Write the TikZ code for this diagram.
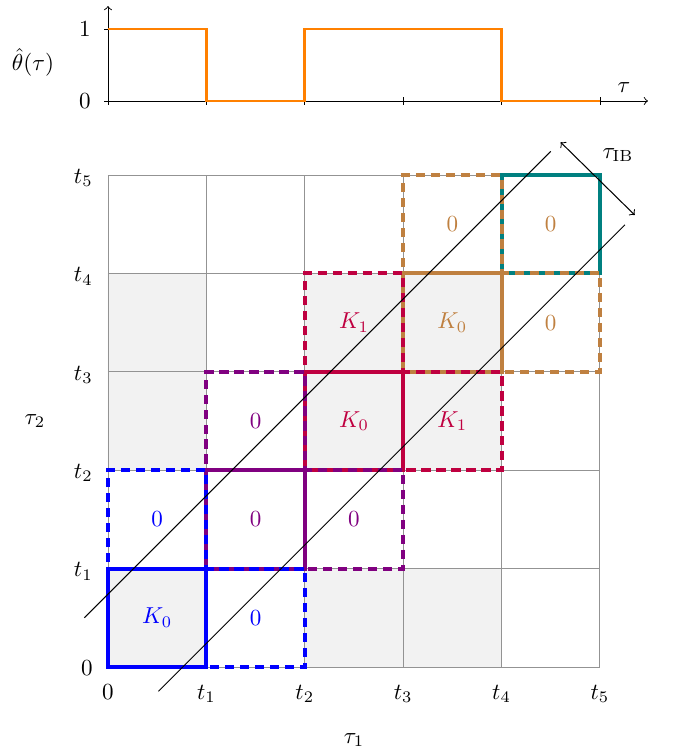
\documentclass[tikz,border=0pt]{standalone}
\begin{document}
\begin{tikzpicture}[
  cellgrid/.style={gray!85, line width=0.4pt},
  sq/.style={line width=1.7pt},
  dsq/.style={line width=1.7pt, dash pattern=on 4pt off 2.5pt},
  axisline/.style={line width=0.4pt},
  tickmark/.style={line width=0.4pt},
  diag/.style={line width=0.45pt},
  theta/.style={orange, line width=1.25pt},
]
\useasboundingbox (-1.646,-1.311) rectangle (8.765,10.168);

% ---------- top plot ----------
\coordinate (ax0) at (0,8.628);
\coordinate (axx) at (8.232,8.628);
\coordinate (axy) at (0,10.076);
\draw[axisline,->] (ax0) -- (axx);
\draw[axisline,->] (ax0) -- (axy);
\foreach \i in {0,...,5} {
  \draw[tickmark] (1.5*\i,8.568) -- (1.5*\i,8.688);
}
\draw[tickmark] (-0.06,8.628) -- (0.06,8.628);
\draw[tickmark] (-0.06,9.726) -- (0.06,9.726);
\draw[theta] (0,9.726) -- (1.5,9.726) -- (1.5,8.628) -- (3,8.628) -- (3,9.726)
  -- (6,9.726) -- (6,8.628) -- (7.5,8.628);
\node (yone) at (-0.351,9.726) {$1$};
\node (yzero) at (-0.351,8.628) {$0$};
\node[inner sep=1pt] (thlab) at (-1.143,9.223) {$\hat{\theta}(\tau)$};
\node (taulab) at (7.866,8.826) {$\tau$};

% ---------- grid ----------
\begin{scope}[scale=1.5]
\fill[gray!10] (0,0) rectangle (1,1) (2,0) rectangle (4,1)
  (0,2) rectangle (1,4) (2,2) rectangle (4,4);
\draw[cellgrid] (0,0) grid (5,5);

% teal
\draw[sq,teal] (4,4) rectangle (5,5);
% brown
\draw[dsq,brown] (3,3) rectangle (4,5);
\draw[dsq,brown] (3,3) rectangle (5,4);
\draw[sq,brown] (3,3) rectangle (4,4);
% purple
\draw[dsq,purple] (2,2) rectangle (3,4);
\draw[dsq,purple] (2,2) rectangle (4,3);
\draw[sq,purple] (2,2) rectangle (3,3);
% violet
\draw[dsq,violet] (1,1) rectangle (2,3);
\draw[dsq,violet] (1,1) rectangle (3,2);
\draw[sq,violet] (1,1) rectangle (2,2);
% blue
\draw[dsq,blue] (0,0) rectangle (1,2);
\draw[dsq,blue] (0,0) rectangle (2,1);
\draw[sq,blue] (0,0) rectangle (1,1);

% cell labels
\node[text=blue] (b00) at (0.5,0.5) {$K_0$};
\node[text=blue] (b01) at (0.5,1.5) {$0$};
\node[text=blue] (b10) at (1.5,0.5) {$0$};
\node[text=violet] (v11) at (1.5,1.5) {$0$};
\node[text=violet] (v12) at (1.5,2.5) {$0$};
\node[text=violet] (v21) at (2.5,1.5) {$0$};
\node[text=purple] (p22) at (2.5,2.5) {$K_0$};
\node[text=purple] (p23) at (2.5,3.5) {$K_1$};
\node[text=purple] (p32) at (3.5,2.5) {$K_1$};
\node[text=brown] (r33) at (3.5,3.5) {$K_0$};
\node[text=brown] (r34) at (3.5,4.5) {$0$};
\node[text=brown] (r43) at (4.5,3.5) {$0$};
\node[text=brown] (r44) at (4.5,4.5) {$0$};
\end{scope}

% axis labels of grid
\node[anchor=mid east] (l0) at (-0.11,-0.05) {$0$};
\foreach \j in {1,...,5} {
  \node[anchor=mid east] (lt\j) at (-0.11,1.5*\j-0.05) {$t_{\j}$};
}
\node[anchor=base] (b0) at (0,-0.49) {$0$};
\foreach \i in {1,...,5} {
  \node[anchor=base] (bt\i) at (1.5*\i,-0.49) {$t_{\i}$};
}
\node (tau1) at (3.75,-1.113) {$\tau_1$};
\node (tau2) at (-1.113,3.75) {$\tau_2$};

% diagonals
\coordinate (ua) at (-0.36,0.75);
\coordinate (ub) at (6.75,7.86);
\coordinate (la) at (0.77,-0.37);
\coordinate (lb) at (7.88,6.74);
\draw[diag] (ua) -- (ub);
\draw[diag] (la) -- (lb);
\coordinate (arA) at (6.90,8.00);
\coordinate (arB) at (8.03,6.89);
\draw[diag,<->] (arA) -- (arB);
\node (tib) at (7.775,7.805) {$\tau_{\mathrm{IB}}$};
\end{tikzpicture}
\end{document}
